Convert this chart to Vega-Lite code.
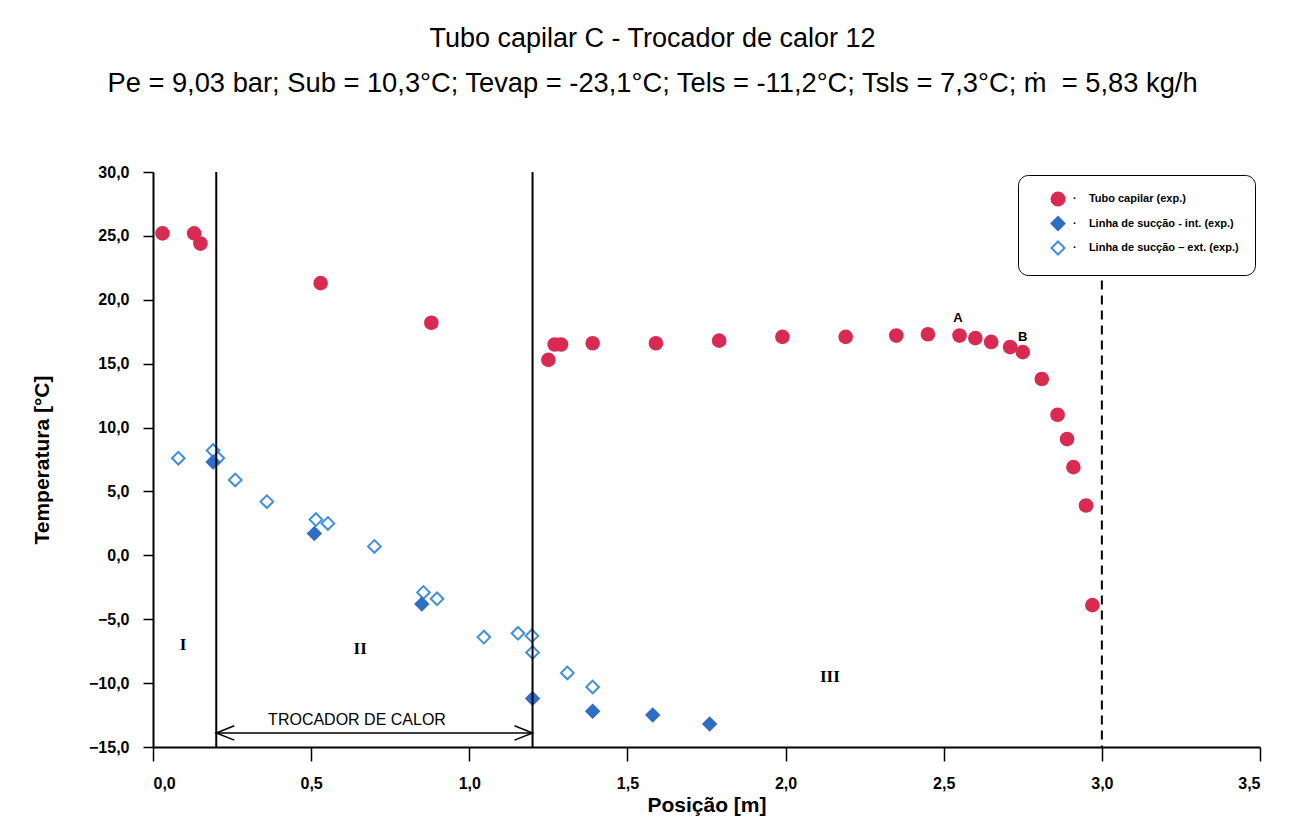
{
  "$schema": "https://vega.github.io/schema/vega-lite/v6.json",
  "width": 1107,
  "height": 575,
  "autosize": {"type": "none"},
  "padding": {"left": 153, "top": 172, "right": 32, "bottom": 84},
  "background": "white",
  "title": {
    "text": "Tubo capilar C - Trocador de calor 12",
    "subtitle": "Pe = 9,03 bar; Sub = 10,3°C; Tevap = -23,1°C; Tels = -11,2°C; Tsls = 7,3°C; ṁ\u00a0\u00a0= 5,83 kg/h",
    "font": "Liberation Sans",
    "fontSize": 27,
    "fontWeight": "normal",
    "color": "black",
    "subtitleFont": "Liberation Sans",
    "subtitleFontSize": 27.3,
    "subtitleColor": "black",
    "subtitlePadding": 17,
    "offset": 66,
    "dx": -54,
    "anchor": "middle"
  },
  "config": {
    "font": "Liberation Sans",
    "view": {"stroke": null},
    "axis": {
      "grid": false,
      "domainColor": "black",
      "domainWidth": 2,
      "tickColor": "black",
      "tickWidth": 1.5,
      "tickSize": 10,
      "labelFont": "Liberation Sans",
      "labelFontWeight": "bold",
      "labelFontSize": 16,
      "labelColor": "black",
      "titleFont": "Liberation Sans",
      "titleFontWeight": "bold",
      "titleFontSize": 21,
      "titleColor": "black"
    }
  },
  "datasets": {
    "pts": [
      {"pos": 0.03, "temp": 25.2, "serie": "Tubo capilar (exp.)"},
      {"pos": 0.13, "temp": 25.2, "serie": "Tubo capilar (exp.)"},
      {"pos": 0.15, "temp": 24.4, "serie": "Tubo capilar (exp.)"},
      {"pos": 0.53, "temp": 21.3, "serie": "Tubo capilar (exp.)"},
      {"pos": 0.88, "temp": 18.2, "serie": "Tubo capilar (exp.)"},
      {"pos": 1.25, "temp": 15.3, "serie": "Tubo capilar (exp.)"},
      {"pos": 1.27, "temp": 16.5, "serie": "Tubo capilar (exp.)"},
      {"pos": 1.29, "temp": 16.5, "serie": "Tubo capilar (exp.)"},
      {"pos": 1.39, "temp": 16.6, "serie": "Tubo capilar (exp.)"},
      {"pos": 1.59, "temp": 16.6, "serie": "Tubo capilar (exp.)"},
      {"pos": 1.79, "temp": 16.8, "serie": "Tubo capilar (exp.)"},
      {"pos": 1.99, "temp": 17.1, "serie": "Tubo capilar (exp.)"},
      {"pos": 2.19, "temp": 17.1, "serie": "Tubo capilar (exp.)"},
      {"pos": 2.35, "temp": 17.2, "serie": "Tubo capilar (exp.)"},
      {"pos": 2.45, "temp": 17.3, "serie": "Tubo capilar (exp.)"},
      {"pos": 2.55, "temp": 17.2, "serie": "Tubo capilar (exp.)"},
      {"pos": 2.60, "temp": 17.0, "serie": "Tubo capilar (exp.)"},
      {"pos": 2.65, "temp": 16.7, "serie": "Tubo capilar (exp.)"},
      {"pos": 2.71, "temp": 16.3, "serie": "Tubo capilar (exp.)"},
      {"pos": 2.75, "temp": 15.9, "serie": "Tubo capilar (exp.)"},
      {"pos": 2.81, "temp": 13.8, "serie": "Tubo capilar (exp.)"},
      {"pos": 2.86, "temp": 11.0, "serie": "Tubo capilar (exp.)"},
      {"pos": 2.89, "temp": 9.1, "serie": "Tubo capilar (exp.)"},
      {"pos": 2.91, "temp": 6.9, "serie": "Tubo capilar (exp.)"},
      {"pos": 2.95, "temp": 3.9, "serie": "Tubo capilar (exp.)"},
      {"pos": 2.97, "temp": -3.9, "serie": "Tubo capilar (exp.)"},
      {"pos": 0.08, "temp": 7.6, "serie": "Linha de sucção – ext. (exp.)"},
      {"pos": 0.19, "temp": 8.2, "serie": "Linha de sucção – ext. (exp.)"},
      {"pos": 0.205, "temp": 7.6, "serie": "Linha de sucção – ext. (exp.)"},
      {"pos": 0.26, "temp": 5.9, "serie": "Linha de sucção – ext. (exp.)"},
      {"pos": 0.36, "temp": 4.2, "serie": "Linha de sucção – ext. (exp.)"},
      {"pos": 0.515, "temp": 2.8, "serie": "Linha de sucção – ext. (exp.)"},
      {"pos": 0.553, "temp": 2.5, "serie": "Linha de sucção – ext. (exp.)"},
      {"pos": 0.70, "temp": 0.7, "serie": "Linha de sucção – ext. (exp.)"},
      {"pos": 0.855, "temp": -2.9, "serie": "Linha de sucção – ext. (exp.)"},
      {"pos": 0.898, "temp": -3.4, "serie": "Linha de sucção – ext. (exp.)"},
      {"pos": 1.046, "temp": -6.4, "serie": "Linha de sucção – ext. (exp.)"},
      {"pos": 1.154, "temp": -6.1, "serie": "Linha de sucção – ext. (exp.)"},
      {"pos": 1.198, "temp": -6.3, "serie": "Linha de sucção – ext. (exp.)"},
      {"pos": 1.20, "temp": -7.6, "serie": "Linha de sucção – ext. (exp.)"},
      {"pos": 1.31, "temp": -9.2, "serie": "Linha de sucção – ext. (exp.)"},
      {"pos": 1.39, "temp": -10.3, "serie": "Linha de sucção – ext. (exp.)"},
      {"pos": 0.19, "temp": 7.3, "serie": "Linha de sucção - int. (exp.)"},
      {"pos": 0.51, "temp": 1.7, "serie": "Linha de sucção - int. (exp.)"},
      {"pos": 0.85, "temp": -3.8, "serie": "Linha de sucção - int. (exp.)"},
      {"pos": 1.20, "temp": -11.2, "serie": "Linha de sucção - int. (exp.)"},
      {"pos": 1.39, "temp": -12.2, "serie": "Linha de sucção - int. (exp.)"},
      {"pos": 1.58, "temp": -12.5, "serie": "Linha de sucção - int. (exp.)"},
      {"pos": 1.76, "temp": -13.2, "serie": "Linha de sucção - int. (exp.)"}
    ]
  },
  "layer": [
    {
      "data": {"name": "pts"},
      "mark": {"type": "point", "size": 160, "strokeWidth": 2, "opacity": 1},
      "encoding": {
        "x": {
          "field": "pos", "type": "quantitative",
          "scale": {"domain": [0, 3.5], "nice": false, "zero": false},
          "axis": {
            "title": "Posição [m]",
            "values": [0, 0.5, 1, 1.5, 2, 2.5, 3, 3.5],
            "labelExpr": "replace(format(datum.value, '.1f'), '.', ',')",
            "tickSize": 14,
            "labelPadding": 14,
            "titlePadding": 3
          }
        },
        "y": {
          "field": "temp", "type": "quantitative",
          "scale": {"domain": [-15, 30], "nice": false, "zero": false},
          "axis": {
            "title": "Temperatura [°C]",
            "values": [-15, -10, -5, 0, 5, 10, 15, 20, 25, 30],
            "labelExpr": "replace(format(datum.value, '.1f'), '.', ',')",
            "labelPadding": 14,
            "titlePadding": 36
          }
        },
        "shape": {
          "field": "serie", "type": "nominal",
          "scale": {
            "domain": ["Tubo capilar (exp.)", "Linha de sucção - int. (exp.)", "Linha de sucção – ext. (exp.)"],
            "range": ["circle", "diamond", "diamond"]
          },
          "legend": {
            "title": null,
            "orient": "none",
            "legendX": 865,
            "legendY": 3,
            "strokeColor": "black",
            "cornerRadius": 10,
            "fillColor": "white",
            "padding": 16,
            "symbolOffset": 16,
            "symbolSize": 170,
            "symbolStrokeWidth": 2,
            "labelFont": "Liberation Sans",
            "labelFontWeight": "bold",
            "labelFontSize": 11,
            "labelLimit": 400,
            "labelColor": "black",
            "labelOffset": 7,
            "rowPadding": 2.5,
            "labelExpr": "'·\u00a0\u00a0\u00a0\u00a0' + datum.label"
          }
        },
        "fill": {
          "field": "serie", "type": "nominal",
          "scale": {
            "domain": ["Tubo capilar (exp.)", "Linha de sucção - int. (exp.)", "Linha de sucção – ext. (exp.)"],
            "range": ["#d92b52", "#2e6ec6", "white"]
          }
        },
        "stroke": {
          "field": "serie", "type": "nominal",
          "scale": {
            "domain": ["Tubo capilar (exp.)", "Linha de sucção - int. (exp.)", "Linha de sucção – ext. (exp.)"],
            "range": ["#d92b52", "#2e6ec6", "#3f8fdc"]
          }
        }
      }
    },
    {
      "data": {"values": [{"pos": 0.2}, {"pos": 1.2}]},
      "mark": {"type": "rule", "color": "black", "strokeWidth": 2},
      "encoding": {"x": {"field": "pos", "type": "quantitative"}}
    },
    {
      "data": {"values": [{"pos": 3.0, "top": 21.5, "bottom": -15}]},
      "mark": {"type": "rule", "color": "black", "strokeWidth": 2, "strokeDash": [9, 6]},
      "encoding": {
        "x": {"field": "pos", "type": "quantitative"},
        "y": {"field": "top", "type": "quantitative"},
        "y2": {"field": "bottom"}
      }
    },
    {
      "data": {"values": [{"start": 0.2, "end": 1.2, "temp": -13.9}]},
      "mark": {"type": "rule", "color": "black", "strokeWidth": 1.5},
      "encoding": {
        "x": {"field": "start", "type": "quantitative"},
        "x2": {"field": "end"},
        "y": {"field": "temp", "type": "quantitative"}
      }
    },
    {
      "data": {"values": [{"pos": 0.2, "temp": -13.9}]},
      "mark": {"type": "point", "shape": "M1,-0.4L0,0L1,0.4", "size": 1300, "filled": false, "stroke": "black", "strokeWidth": 1.5, "opacity": 1},
      "encoding": {
        "x": {"field": "pos", "type": "quantitative"},
        "y": {"field": "temp", "type": "quantitative"}
      }
    },
    {
      "data": {"values": [{"pos": 1.2, "temp": -13.9}]},
      "mark": {"type": "point", "shape": "M-1,-0.4L0,0L-1,0.4", "size": 1300, "filled": false, "stroke": "black", "strokeWidth": 1.5, "opacity": 1},
      "encoding": {
        "x": {"field": "pos", "type": "quantitative"},
        "y": {"field": "temp", "type": "quantitative"}
      }
    },
    {
      "data": {"values": [{"pos": 0.645, "temp": -12.9, "label": "TROCADOR DE CALOR"}]},
      "mark": {"type": "text", "font": "Liberation Sans", "fontSize": 16, "color": "black", "align": "center", "baseline": "middle"},
      "encoding": {
        "x": {"field": "pos", "type": "quantitative"},
        "y": {"field": "temp", "type": "quantitative"},
        "text": {"field": "label"}
      }
    },
    {
      "data": {"values": [
        {"pos": 0.095, "temp": -7.0, "label": "I"},
        {"pos": 0.655, "temp": -7.3, "label": "II"},
        {"pos": 2.14, "temp": -9.5, "label": "III"}
      ]},
      "mark": {"type": "text", "font": "Liberation Serif", "fontWeight": "bold", "fontSize": 17, "color": "black", "align": "center", "baseline": "middle"},
      "encoding": {
        "x": {"field": "pos", "type": "quantitative"},
        "y": {"field": "temp", "type": "quantitative"},
        "text": {"field": "label"}
      }
    },
    {
      "data": {"values": [
        {"pos": 2.545, "temp": 18.6, "label": "A"},
        {"pos": 2.75, "temp": 17.1, "label": "B"}
      ]},
      "mark": {"type": "text", "font": "Liberation Sans", "fontWeight": "bold", "fontSize": 13, "color": "black", "align": "center", "baseline": "middle"},
      "encoding": {
        "x": {"field": "pos", "type": "quantitative"},
        "y": {"field": "temp", "type": "quantitative"},
        "text": {"field": "label"}
      }
    }
  ]
}
